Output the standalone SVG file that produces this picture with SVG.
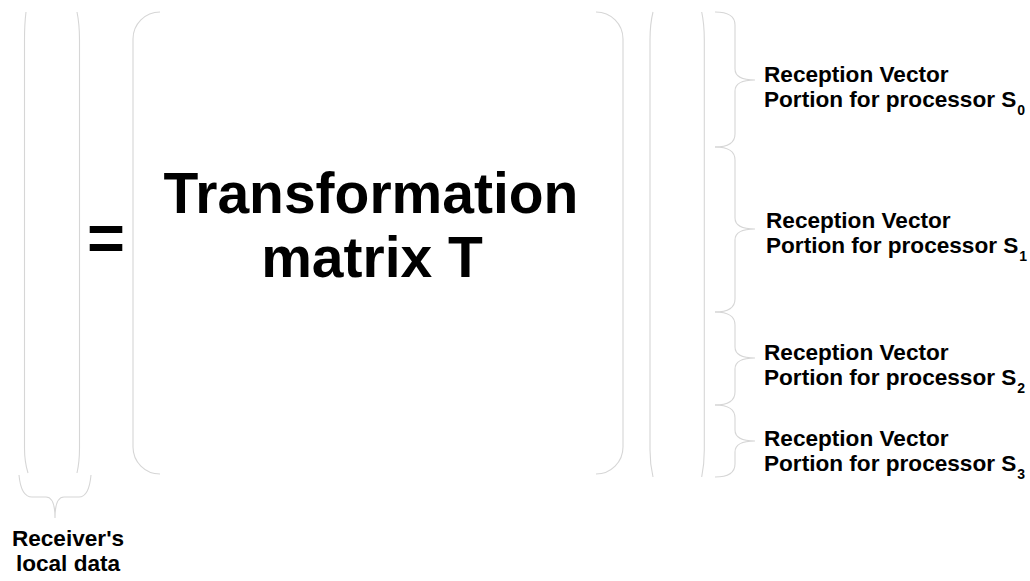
<svg xmlns="http://www.w3.org/2000/svg" width="1030" height="581" viewBox="0 0 1030 581">
<style>
.ln{fill:none;stroke:#d6d6d6;stroke-width:1.1}
.t{font-family:"Liberation Sans",Arial,sans-serif;font-weight:bold;fill:#000}
.lab{font-size:22.6px}
.sub{font-size:14px}
.big{font-size:57px}
</style>
<rect width="1030" height="581" fill="#fff"/>
<g id="local-vector">
<path class="ln" d="M26,12 Q24.5,24 24.5,40 L24.5,448 Q24.5,462 28,473"/>
<path class="ln" d="M77,12 Q79.5,24 79.5,40 L79.5,448 Q79.5,462 77,473"/>
</g>
<g id="equals">
<text class="t" x="106" y="260" text-anchor="middle" font-size="65">=</text>
</g>
<g id="matrix-T">
<path class="ln" d="M160,12 A27,27 0 0 0 133,39 L133,447 A27,27 0 0 0 160,474"/>
<path class="ln" d="M596,12 A27,27 0 0 1 623,39 L623,447 A27,27 0 0 1 596,474"/>
<text class="t big" x="371" y="213" text-anchor="middle">Transformation</text>
<text class="t big" x="372" y="277" text-anchor="middle">matrix T</text>
</g>
<g id="reception-vector">
<path class="ln" d="M653,12 Q650,24 650,40 L650,450 Q650,464 653,477"/>
<path class="ln" d="M701.7,12 Q704.3,24 704.3,40 L704.3,450 Q704.3,464 701.7,477"/>
</g>
<g id="braces">
<path class="ln" d="M19,475 Q21,497 32,497 L46,497 Q55,497 55,518 Q55,497 64,497 L79,497 Q89,497 91,475"/>
<path class="ln" d="M715,12 Q735,12 735,25 L735,69 Q735,80 755,80 Q735,80 735,91 L735,134 Q735,147 715,147"/>
<path class="ln" d="M715,147 Q735,147 735,160 L735,218 Q735,229 755,229 Q735,229 735,240 L735,299 Q735,312 715,312"/>
<path class="ln" d="M715,312 Q735,312 735,325 L735,347 Q735,358 755,358 Q735,358 735,369 L735,392 Q735,405 715,405"/>
<path class="ln" d="M715,405 Q735,405 735,418 L735,430 Q735,441 755,441 Q735,441 735,452 L735,464 Q735,477 715,477"/>
</g>
<g id="label-receiver">
<text class="t lab" x="68" y="546" text-anchor="middle">Receiver's</text>
<text class="t lab" x="68" y="571" text-anchor="middle">local data</text>
</g>
<g id="label-s0">
<text class="t lab" x="764" y="82">Reception Vector</text>
<text class="t lab" x="764" y="107">Portion for processor S<tspan class="sub" dx="1" dy="8">0</tspan></text>
</g>
<g id="label-s1">
<text class="t lab" x="766" y="228">Reception Vector</text>
<text class="t lab" x="766" y="253">Portion for processor S<tspan class="sub" dx="1" dy="8">1</tspan></text>
</g>
<g id="label-s2">
<text class="t lab" x="764" y="360">Reception Vector</text>
<text class="t lab" x="764" y="385">Portion for processor S<tspan class="sub" dx="1" dy="8">2</tspan></text>
</g>
<g id="label-s3">
<text class="t lab" x="764" y="446">Reception Vector</text>
<text class="t lab" x="764" y="471">Portion for processor S<tspan class="sub" dx="1" dy="8">3</tspan></text>
</g>
</svg>
